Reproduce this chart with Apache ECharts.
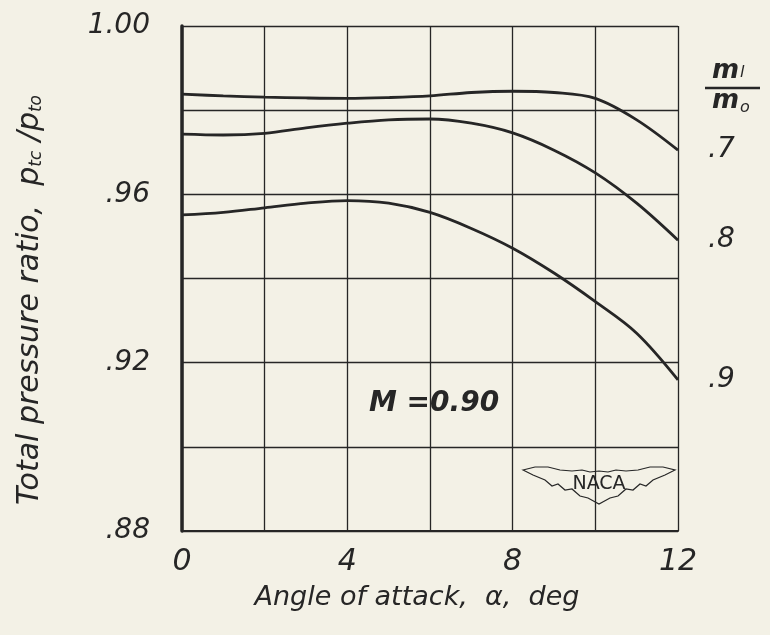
<!DOCTYPE html>
<html>
<head>
<meta charset="utf-8">
<script src="https://cdn.jsdelivr.net/npm/echarts@6/dist/echarts.min.js"></script>
<style>
html,body{margin:0;padding:0;background:#f3f1e6;}
#chart{width:770px;height:635px;}
</style>
</head>
<body>
<div id="chart"></div>
<script>
// Angle of attack, deg
const alpha = [0,1,2,3,4,5,6,7,8,9,10,11,12];
// Total pressure ratio curves for mass-flow ratios m1/m0
const ratio07 = [0.9838,0.9834,0.9831,0.9829,0.9828,0.9830,0.9834,0.9842,0.9845,0.9842,0.9828,0.9777,0.9705];
const ratio08 = [0.9743,0.9741,0.9745,0.9758,0.9769,0.9777,0.9779,0.9769,0.9746,0.9705,0.9651,0.9579,0.9491];
const ratio09 = [0.9551,0.9557,0.9568,0.9579,0.9585,0.9579,0.9557,0.9519,0.9472,0.9413,0.9345,0.9270,0.9159];
const curveLabels = ['.7','.8','.9'];
const xTickLabels = [0,4,8,12];
const yTickLabels = ['1.00','.96','.92','.88'];

const ink = '#262626';
const FF = 'DejaVu Sans';
const font = {fontFamily:FF, fontStyle:'italic', color: ink};

function mk(vals, lab){
  return {
    type:'line', data: alpha.map((a,i)=>[a, vals[i]]), smooth:0.35, symbol:'none',
    lineStyle:{color:ink, width:2.8},
    endLabel:{show:true, formatter: lab, distance:30, fontSize:28, ...font}
  };
}

// NACA wing outline (half, mirrored around x=599)
const cx = 599;
const halfUpper = [[523,470],[535,467],[548,467],[560,470],[572,471],[582,470],[590,472],[599,471]];
const halfLower = [[523,470],[533,475],[545,480],[552,486],[558,484],[565,490],[572,489],[580,496],[588,498],[599,504]];
function mirror(pts){ return pts.map(p=>[2*cx-p[0], p[1]]); }
const outline = halfUpper
  .concat(mirror(halfUpper).slice(0,-1).reverse())
  .concat(mirror(halfLower).slice(0,-1))
  .concat(halfLower.slice().reverse());

const chart = echarts.init(document.getElementById('chart'));
chart.setOption({
  backgroundColor:'#f3f1e6',
  animation:false,
  grid:{left:182, right:92, top:26, bottom:104},
  xAxis:{
    type:'value', min:0, max:12, interval:2,
    axisLine:{show:true, lineStyle:{color:ink, width:2}},
    axisTick:{show:false},
    axisLabel:{fontSize:30, margin:16, ...font,
      formatter: v => xTickLabels.indexOf(v) >= 0 ? String(v) : ''},
    splitLine:{show:true, lineStyle:{color:ink, width:1.3}}
  },
  yAxis:{
    type:'value', min:0.88, max:1.00, interval:0.02,
    axisLine:{show:true, lineStyle:{color:ink, width:3.5}},
    axisTick:{show:false},
    axisLabel:{fontSize:28, margin:32, ...font,
      formatter: v => {
        const k = Math.round(v*100);
        const s = k===100 ? '1.00' : '.'+k;
        return yTickLabels.indexOf(s) >= 0 ? s : '';
      }},
    splitLine:{show:true, lineStyle:{color:ink, width:1.3}}
  },
  series:[mk(ratio07, curveLabels[0]), mk(ratio08, curveLabels[1]), mk(ratio09, curveLabels[2])],
  graphic:[
    {type:'text', x:417, y:598, style:{text:'Angle of attack,  α,  deg', fontSize:27, fontFamily:FF, fontStyle:'italic', fill:ink, align:'center', verticalAlign:'middle'}},
    {type:'text', x:30, y:300, rotation:Math.PI/2, style:{
      text:'{t|Total pressure ratio,  }{p|p}{s|tc}{t| /}{p|p}{s|to}',
      align:'center', verticalAlign:'middle',
      rich:{
        t:{fontSize:30, fontFamily:FF, fontStyle:'italic', fill:ink},
        p:{fontSize:30, fontFamily:FF, fontStyle:'italic', fill:ink},
        s:{fontSize:17, fontFamily:FF, fontStyle:'italic', fill:ink, padding:[14,0,0,0]}
      }}},
    {type:'text', left:369, top:390, style:{text:'M =0.90', fontSize:28, fontFamily:FF, fontStyle:'italic', fontWeight:'bold', fill:ink}},
    {type:'text', left:712, top:58, style:{text:'m', fontSize:26, fontFamily:FF, fontStyle:'italic', fontWeight:'bold', fill:ink}},
    {type:'text', left:740, top:65, style:{text:'l', fontSize:16, fontFamily:FF, fontStyle:'italic', fill:ink}},
    {type:'line', shape:{x1:705, y1:88, x2:760, y2:88}, style:{stroke:ink, lineWidth:2.5}},
    {type:'text', left:712, top:88, style:{text:'m', fontSize:26, fontFamily:FF, fontStyle:'italic', fontWeight:'bold', fill:ink}},
    {type:'text', left:740, top:100, style:{text:'o', fontSize:16, fontFamily:FF, fontStyle:'italic', fill:ink}},
    // NACA wings logo
    {type:'polygon', shape:{points:outline}, style:{stroke:ink, lineWidth:1.2, fill:'#f3f1e6'}},
    {type:'text', x:599, y:484, style:{text:'NACA', fontSize:19, fontFamily:FF, fill:ink, align:'center', verticalAlign:'middle'}}
  ]
});
</script>
</body>
</html>
